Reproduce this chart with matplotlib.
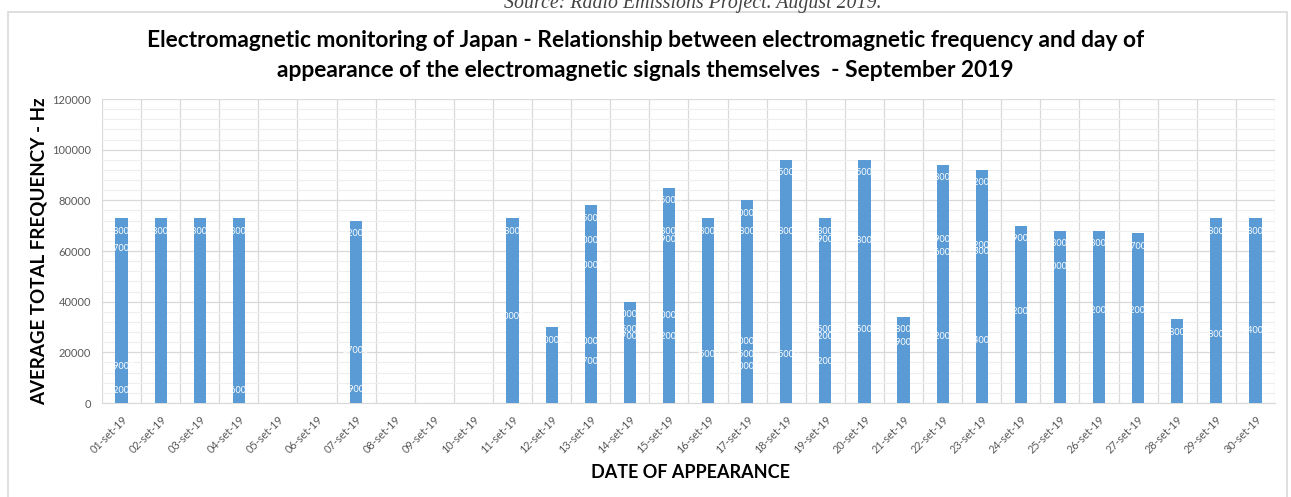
import matplotlib
matplotlib.use('Agg')
import matplotlib.pyplot as plt
from matplotlib.patches import Rectangle
from matplotlib.ticker import MultipleLocator

# Data
days = ['%02d-set-19' % d for d in range(1, 31)]

totals = [73000, 73000, 73000, 73000, 0, 0, 72000, 0, 0, 0,
          73000, 30000, 78000, 40000, 85000, 73000, 80000, 96000, 73000, 96000,
          34000, 94000, 92000, 70000, 68000, 68000, 67000, 33000, 73000, 73000]

# individual signals per day (position of their data labels) and label text
signal_values = [
    [73000, 66200, 19400, 10200], [73000], [73000], [73000, 10200], [], [],
    [72000, 26000, 10500], [], [], [],
    [73000, 39200], [30000], [78000, 69400, 59600, 29300, 21400],
    [40000, 34200, 31300], [85000, 72700, 69700, 39600, 31300],
    [73000, 24400], [80000, 72700, 29600, 24400, 19400],
    [96000, 73000, 24400], [73000, 69700, 34300, 31300, 21400],
    [96000, 69400, 34300], [34000, 28900], [94000, 69700, 64400, 31300],
    [92000, 67500, 64900, 30000], [70000, 41200], [68000, 59200],
    [68000, 41500], [67000, 41500], [33000], [73000, 32200], [73000, 33600],
]
signal_labels = [
    ['78000', '67000', '19000', '12000'], ['73000'], ['73000'], ['78000', '16000'], [], [],
    ['72000', '27000', '19000'], [], [], [],
    ['78000', '40000'], ['30000'], ['75000', '70000', '60000', '30000', '27000'],
    ['40000', '35000', '37000'], ['85000', '78000', '79000', '40000', '32000'],
    ['78000', '25000'], ['80000', '78000', '30000', '25000', '20000'],
    ['95000', '78000', '25000'], ['78000', '69000', '35000', '32000', '22000'],
    ['95000', '68000', '35000'], ['38000', '29000'], ['98000', '69000', '66000', '32000'],
    ['92000', '62000', '63000', '34000'], ['79000', '42000'], ['68000', '50000'],
    ['68000', '42000'], ['67000', '42000'], ['38000'], ['78000', '38000'], ['78000', '34000'],
]

blue = '#5b9bd5'
grey_txt = '#595959'

fig = plt.figure(figsize=(12.91, 4.97), dpi=100)
ax = fig.add_axes([0.079, 0.1891, 0.9086, 0.6117])

x = list(range(len(days)))
ax.bar(x, totals, width=0.31, color=blue, zorder=3)

for i, (vals, labs) in enumerate(zip(signal_values, signal_labels)):
    for v, t in zip(vals, labs):
        ax.annotate(t, (i, v), xytext=(0, -13), textcoords='offset pixels',
                    ha='center', va='center', color='white', fontsize=6.5,
                    family='Lato', zorder=4)

ax.set_xlim(-0.5, len(days) - 0.5)
ax.set_ylim(0, 120000)
ax.yaxis.set_major_locator(MultipleLocator(20000))
ax.yaxis.set_minor_locator(MultipleLocator(4000))
ax.set_xticks(x)
ax.set_xticks([i - 0.5 for i in range(len(days) + 1)], minor=True)
ax.set_xticklabels(days, rotation=45, ha='right', rotation_mode='anchor',
                   fontsize=7.8, color=grey_txt, family='Lato')
ax.tick_params(axis='x', which='both', length=0, pad=8)
ax.tick_params(axis='y', which='both', length=0, labelsize=8, labelcolor=grey_txt, pad=8)
for lab in ax.get_yticklabels():
    lab.set_family('Lato')

ax.grid(True, axis='y', which='major', color='#d9d9d9', lw=0.9, zorder=0)
ax.grid(True, axis='y', which='minor', color='#eeeeee', lw=0.8, zorder=0)
ax.grid(True, axis='x', which='minor', color='#d9d9d9', lw=0.9, zorder=0)
for s in ['top', 'right', 'left']:
    ax.spines[s].set_visible(False)
ax.spines['bottom'].set_color('#d9d9d9')

ax.set_ylabel('AVERAGE TOTAL FREQUENCY - Hz', fontsize=13.5, fontweight='bold',
              family='Lato')
ax.yaxis.set_label_coords(-0.046, 0.5)
fig.text(0.535, 0.05, 'DATE OF APPEARANCE', ha='center', va='center',
         fontsize=13, fontweight='bold', family='Lato')

fig.text(0.5, 0.918, 'Electromagnetic monitoring of Japan - Relationship between electromagnetic frequency and day of',
         ha='center', va='center', fontsize=16.4, fontweight='bold', family='Lato')
fig.text(0.5, 0.858, 'appearance of the electromagnetic signals themselves  - September 2019',
         ha='center', va='center', fontsize=16.4, fontweight='bold', family='Lato')

# source line cut at the top of the image
fig.text(0.537, 1 - 8 / 497, 'Source: Radio Emissions Project. August 2019.',
         ha='center', va='baseline', fontsize=14.3, style='italic',
         family='Liberation Serif', color='#444444')

fig.patches.append(Rectangle((8 / 1291, -0.01), 1279 / 1291, 1 - 12 / 497 + 0.01,
                             transform=fig.transFigure, fill=False,
                             edgecolor='#d9d9d9', lw=1.2))

fig.savefig('out.png', dpi=100)
